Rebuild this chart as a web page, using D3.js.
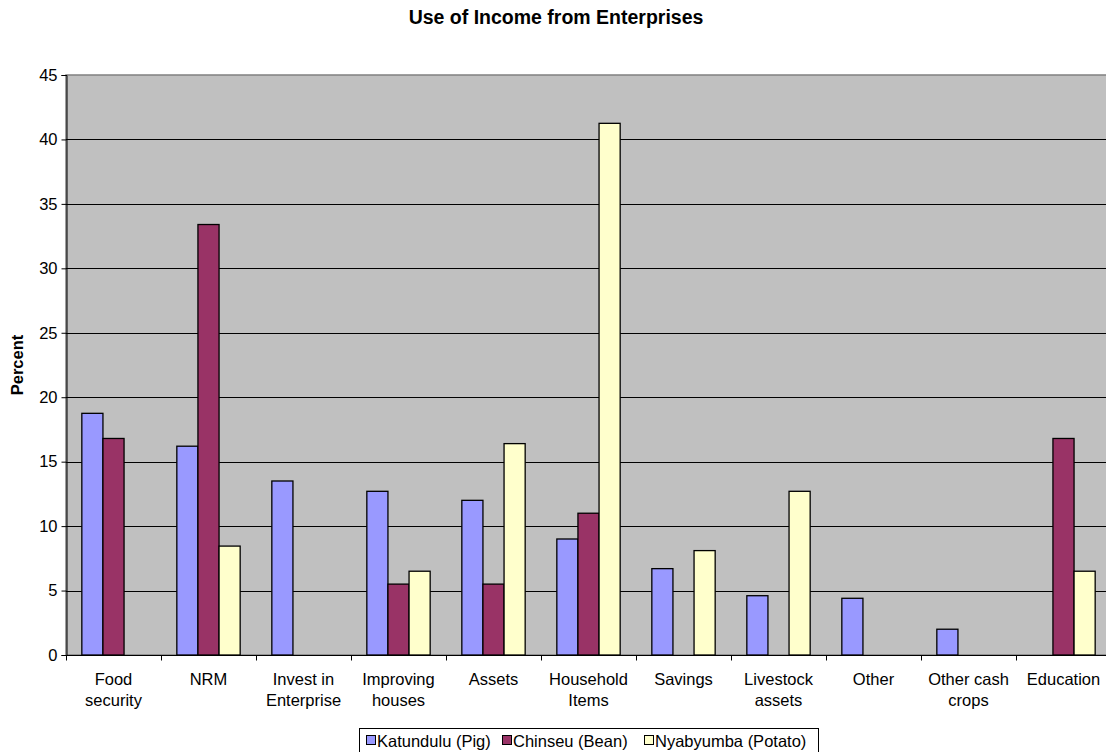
<!DOCTYPE html>
<html>
<head>
<meta charset="utf-8">
<script src="https://cdn.jsdelivr.net/npm/d3@7"></script>
<style>
  body { margin: 0; background: #fff; }
  text { font-family: "Liberation Sans", Arial, sans-serif; }
</style>
</head>
<body>
<script>
const width = 1106;
const height = 752;

const categories = ["Food security", "NRM", "Invest in Enterprise", "Improving houses", "Assets",
  "Household Items", "Savings", "Livestock assets", "Other", "Other cash crops", "Education"];
const categoryLines = [["Food", "security"], ["NRM"], ["Invest in", "Enterprise"], ["Improving", "houses"],
  ["Assets"], ["Household", "Items"], ["Savings"], ["Livestock", "assets"], ["Other"],
  ["Other cash", "crops"], ["Education"]];

const seriesNames = ["Katundulu (Pig)", "Chinseu (Bean)", "Nyabyumba (Potato)"];
const katundulu = [18.75, 16.2, 13.5, 12.7, 12.0, 9.0, 6.7, 4.6, 4.4, 2.0, 0];
const chinseu = [16.8, 33.4, 0, 5.5, 5.5, 11.0, 0, 0, 0, 0, 16.8];
const nyabyumba = [0, 8.45, 0, 6.5, 16.4, 41.25, 8.1, 12.7, 0, 0, 6.5];
const yTicks = [0, 5, 10, 15, 20, 25, 30, 35, 40, 45];

const colors = ["#9999FF", "#993366", "#FFFFCC"];
const values = [katundulu, chinseu, nyabyumba];

const fontSize = 16.5;
const margin = { left: 66, top: 75, bottom: 97 };
const plotRight = margin.left + 95 * categories.length; // runs past the window edge, like the original

const svg = d3.select("body")
  .append("svg")
  .attr("width", width)
  .attr("height", height);

const x = d3.scaleBand()
  .domain(categories)
  .range([margin.left, plotRight])
  .padding(0);

// Excel-style gap width 150%: bars take 3 of 4.5 units, gap split on both sides
const barW = x.bandwidth() / 4.5;
const barOffset = barW * 0.75;

const y = d3.scaleLinear()
  .domain([0, 45])
  .range([height - margin.bottom, margin.top]);

// plot area
svg.append("rect")
  .attr("x", margin.left)
  .attr("y", margin.top)
  .attr("width", plotRight - margin.left)
  .attr("height", y(0) - margin.top)
  .attr("fill", "#C0C0C0")
  .attr("stroke", "#808080")
  .attr("stroke-width", 1.5);

// gridlines
svg.append("g")
  .selectAll("line")
  .data(yTicks.filter(d => d > 0 && d < 45))
  .join("line")
  .attr("x1", margin.left)
  .attr("x2", plotRight)
  .attr("y1", d => Math.round(y(d)) + 0.5)
  .attr("y2", d => Math.round(y(d)) + 0.5)
  .attr("stroke", "#000")
  .attr("stroke-width", 1);

// bars
const groups = svg.append("g")
  .selectAll("g")
  .data(seriesNames)
  .join("g")
  .attr("fill", (d, i) => colors[i]);

groups.selectAll("rect")
  .data((d, i) => values[i].map((v, j) => ({ v, j, i })).filter(d => d.v > 0))
  .join("rect")
  .attr("x", d => x(categories[d.j]) + barOffset + d.i * barW)
  .attr("y", d => y(d.v))
  .attr("width", barW)
  .attr("height", d => y(0) - y(d.v))
  .attr("stroke", "#000")
  .attr("stroke-width", 1.3);

// y axis
const yAxis = svg.append("g")
  .attr("transform", `translate(${margin.left + 0.5},0)`)
  .call(d3.axisLeft(y).tickValues(yTicks).tickSize(5).tickPadding(4));
yAxis.select(".domain").attr("stroke", "#000");
yAxis.selectAll("text").attr("font-size", fontSize).attr("fill", "#000")
  .attr("font-family", "Liberation Sans, Arial, sans-serif");

// x axis
const xAxis = svg.append("g")
  .attr("transform", `translate(0,${Math.round(y(0)) + 0.5})`);
xAxis.append("line")
  .attr("x1", margin.left)
  .attr("x2", plotRight)
  .attr("stroke", "#000");
xAxis.selectAll("line.tick")
  .data(d3.range(categories.length + 1))
  .join("line")
  .attr("class", "tick")
  .attr("x1", d => Math.round(margin.left + d * x.bandwidth()) + 0.5)
  .attr("x2", d => Math.round(margin.left + d * x.bandwidth()) + 0.5)
  .attr("y1", 0)
  .attr("y2", 5)
  .attr("stroke", "#000");

svg.append("g")
  .selectAll("text")
  .data(categories)
  .join("text")
  .attr("x", d => x(d) + x.bandwidth() / 2)
  .attr("y", 685)
  .attr("text-anchor", "middle")
  .attr("font-size", fontSize)
  .selectAll("tspan")
  .data((d, i) => categoryLines[i])
  .join("tspan")
  .attr("x", function () { return this.parentNode.getAttribute("x"); })
  .attr("dy", (d, i) => i === 0 ? 0 : 21)
  .text(d => d);

// title
svg.append("text")
  .attr("x", 556)
  .attr("y", 24)
  .attr("text-anchor", "middle")
  .attr("font-size", 19.5)
  .attr("font-weight", "bold")
  .text("Use of Income from Enterprises");

// y label
svg.append("text")
  .attr("transform", "translate(23,365) rotate(-90)")
  .attr("text-anchor", "middle")
  .attr("font-size", fontSize)
  .attr("font-weight", "bold")
  .text("Percent");

// legend
const legend = svg.append("g").attr("transform", "translate(359,728)");
legend.append("rect")
  .attr("x", 0.5)
  .attr("y", 0.5)
  .attr("width", 459)
  .attr("height", 30)
  .attr("fill", "#fff")
  .attr("stroke", "#000");
const legendX = [7, 143, 285];
const item = legend.selectAll("g.item")
  .data(seriesNames)
  .join("g")
  .attr("class", "item")
  .attr("transform", (d, i) => `translate(${legendX[i]},0)`);
item.append("rect")
  .attr("x", 0.5)
  .attr("y", 7.5)
  .attr("width", 9)
  .attr("height", 9)
  .attr("fill", (d, i) => colors[i])
  .attr("stroke", "#000");
item.append("text")
  .attr("x", 11)
  .attr("y", 19)
  .attr("font-size", fontSize)
  .text(d => d);
</script>
</body>
</html>
